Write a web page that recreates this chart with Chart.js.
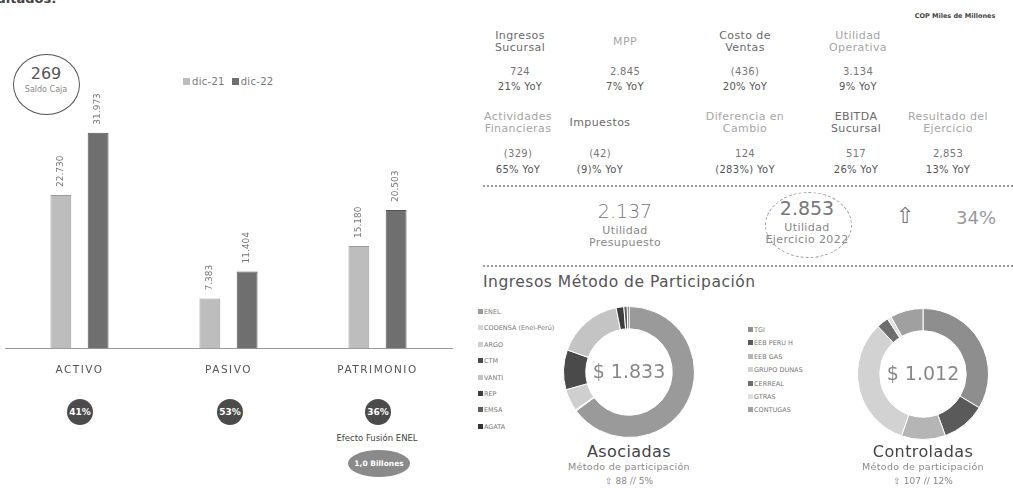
<!DOCTYPE html>
<html>
<head>
<meta charset="utf-8">
<script src="https://cdn.jsdelivr.net/npm/chart.js@4.4.1/dist/chart.umd.min.js"></script>
<style>
  body { margin: 0; background: #fff; font-family: "DejaVu Sans", sans-serif; color: #6a6a6a; }
  #hoja { position: relative; width: 1013px; height: 494px; overflow: hidden; }
  .abs { position: absolute; white-space: nowrap; }
  .cen { position: absolute; transform: translateX(-50%); text-align: center; white-space: nowrap; }
  .tit { font-size: 11px; line-height: 12px; letter-spacing: 0.4px; }
  .val { font-size: 10px; color: #777; letter-spacing: 0.3px; }
  .yoy { font-size: 10px; color: #555; letter-spacing: 0.3px; }
  .claro { color: #a5a5a5; }
  .pct { position: absolute; width: 26px; height: 26px; border-radius: 50%; background: #4b4b4b;
         color: #fff; font-size: 9px; font-weight: bold; line-height: 26px; text-align: center; transform: translateX(-50%); }
  .linea { position: absolute; left: 483px; width: 530px; border-top: 2px dotted #9a9a9a; }
  .ley { position: absolute; font-size: 6.5px; color: #777; white-space: nowrap; }
  .ley span { display: inline-block; width: 5px; height: 5px; margin-right: 1px; }
</style>
</head>
<body>
<div id="hoja">
  <div class="abs" style="left:-30px;top:-9px;font-size:13px;font-weight:bold;color:#444">Resultados:</div>

  <!-- panel izquierdo -->
  <div class="abs" style="left:13px;top:54px;width:65px;height:59px;border:1px solid #555;border-radius:50%;"></div>
  <div class="cen" style="left:46px;top:64px;font-size:16px;color:#555">269</div>
  <div class="cen" style="left:46px;top:85px;font-size:8px;color:#888">Saldo Caja</div>
  <div id="leyBarras" class="abs" style="left:183px;top:76px;font-size:10px;color:#777;letter-spacing:0.3px"></div>

  <canvas id="barras" class="abs" style="left:0;top:65px"></canvas>
  <div id="circulos"></div>
  <div class="cen" style="left:377px;top:433px;font-size:8.5px;color:#444">Efecto Fusión ENEL</div>
  <div class="abs" style="left:348px;top:450px;width:62px;height:27px;border-radius:50%;background:#8a8a8a;color:#fff;font-size:7.5px;font-weight:bold;line-height:27px;text-align:center">1,0 Billones</div>

  <!-- panel derecho -->
  <div class="cen" style="left:955px;top:12px;font-size:6.5px;font-weight:bold;color:#444">COP Miles de Millones</div>
  <div id="tabla"></div>
  <div class="linea" style="top:185px"></div>

  <div class="cen" style="left:625px;top:200px;font-size:19px;color:#777;font-weight:300">2.137</div>
  <div class="cen tit" style="left:625px;top:225px;color:#888">Utilidad<br>Presupuesto</div>
  <div class="abs" style="left:765px;top:192px;width:85px;height:64px;border:1px dashed #999;border-radius:50%"></div>
  <div class="cen" style="left:807px;top:197px;font-size:19px;color:#777">2.853</div>
  <div class="cen tit" style="left:807px;top:222px;color:#888">Utilidad<br>Ejercicio 2022</div>
  <div class="cen" style="left:905px;top:203px;font-size:22px;color:#777">⇧</div>
  <div class="cen" style="left:976px;top:207px;font-size:18px;color:#999">34%</div>
  <div class="linea" style="top:265px"></div>

  <div class="abs" style="left:483px;top:273px;font-size:15.5px;color:#555;letter-spacing:0.5px">Ingresos Método de Participación</div>

  <div id="leyAsoc"></div>
  <div id="leyCont"></div>
  <canvas id="asociadas" class="abs" style="left:559px;top:302px"></canvas>
  <canvas id="controladas" class="abs" style="left:853px;top:304px"></canvas>
  <div id="centroAsoc" class="cen" style="left:629px;top:360px;font-size:19px;color:#888"></div>
  <div id="centroCont" class="cen" style="left:923px;top:362px;font-size:19px;color:#888"></div>

  <div class="cen" style="left:629px;top:442px;font-size:16px;color:#444;letter-spacing:0.4px">Asociadas</div>
  <div class="cen" style="left:629px;top:461px;font-size:9.5px;color:#888;letter-spacing:0.3px">Método de participación</div>
  <div class="cen" style="left:629px;top:476px;font-size:9px;color:#888">⇧ 88 // 5%</div>
  <div class="cen" style="left:923px;top:442px;font-size:16px;color:#444;letter-spacing:0.4px">Controladas</div>
  <div class="cen" style="left:923px;top:461px;font-size:9.5px;color:#888;letter-spacing:0.3px">Método de participación</div>
  <div class="cen" style="left:923px;top:476px;font-size:9px;color:#888">⇧ 107 // 12%</div>
</div>

<script>
// Balance (COP miles de millones)
const categorias = ['ACTIVO', 'PASIVO', 'PATRIMONIO'];
const dic21 = [22730, 7383, 15180];
const dic22 = [31973, 11404, 20503];
const variaciones = ['41%', '53%', '36%'];

// Estado de resultados
const titulos1 = ['Ingresos<br>Sucursal', 'MPP', 'Costo de<br>Ventas', 'Utilidad<br>Operativa'];
const valores1 = ['724', '2.845', '(436)', '3.134'];
const yoy1 = ['21% YoY', '7% YoY', '20% YoY', '9% YoY'];
const titulos2 = ['Actividades<br>Financieras', 'Impuestos', 'Diferencia en<br>Cambio', 'EBITDA<br>Sucursal', 'Resultado del<br>Ejercicio'];
const valores2 = ['(329)', '(42)', '124', '517', '2,853'];
const yoy2 = ['65% YoY', '(9)% YoY', '(283%) YoY', '26% YoY', '13% YoY'];

// Método de participación
const asociadasNombres = ['ENEL', 'CODENSA (Enel-Perú)', 'ARGO', 'CTM', 'VANTI', 'REP', 'EMSA', 'AGATA'];
const asociadasValores = [1190, 5, 100, 180, 300, 35, 15, 8];
const controladasNombres = ['TGI', 'EEB PERU H', 'EEB GAS', 'GRUPO DUNAS', 'CERREAL', 'GTRAS', 'CONTUGAS'];
const controladasValores = [340, 110, 110, 330, 30, 10, 82];

const grisAsoc = ['#9a9a9a', '#d6d6d6', '#cfcfcf', '#4a4a4a', '#c4c4c4', '#3d3d3d', '#5c5c5c', '#333333'];
const grisCont = ['#8e8e8e', '#5a5a5a', '#b5b5b5', '#d2d2d2', '#6e6e6e', '#e0e0e0', '#a0a0a0'];

function miles(n) {
    return String(n).replace(/\B(?=(\d{3})+(?!\d))/g, '.');
}
function total(arr) {
    return arr.reduce((a, b) => a + b, 0);
}

// tabla de indicadores
const xFila1 = [520, 625, 745, 858];
const xFila2 = [518, 600, 745, 856, 948];
const claros1 = [false, true, false, true];
const claros2 = [true, false, true, false, true];
let html = '';
titulos1.forEach((t, i) => {
    const dosLineas = t.indexOf('<br>') >= 0;
    html += `<div class="cen tit ${claros1[i] ? 'claro' : ''}" style="left:${xFila1[i]}px;top:${dosLineas ? 30 : 36}px">${t}</div>`;
    html += `<div class="cen val" style="left:${xFila1[i]}px;top:66px">${valores1[i]}</div>`;
    html += `<div class="cen yoy" style="left:${xFila1[i]}px;top:81px">${yoy1[i]}</div>`;
});
titulos2.forEach((t, i) => {
    const dosLineas = t.indexOf('<br>') >= 0;
    html += `<div class="cen tit ${claros2[i] ? 'claro' : ''}" style="left:${xFila2[i]}px;top:${dosLineas ? 111 : 117}px">${t}</div>`;
    html += `<div class="cen val" style="left:${xFila2[i]}px;top:148px">${valores2[i]}</div>`;
    html += `<div class="cen yoy" style="left:${xFila2[i]}px;top:164px">${yoy2[i]}</div>`;
});
document.getElementById('tabla').innerHTML = html;

// leyendas de las donas
function leyenda(id, nombres, colores, x, y0, paso) {
    let h = '';
    nombres.forEach((n, i) => {
        h += `<div class="ley" style="left:${x}px;top:${y0 + i * paso}px"><span style="background:${colores[i]}"></span>${n}</div>`;
    });
    document.getElementById(id).innerHTML = h;
}
leyenda('leyAsoc', asociadasNombres, grisAsoc, 478, 308, 16.4);
leyenda('leyCont', controladasNombres, grisCont, 748, 326, 13.4);

document.getElementById('centroAsoc').textContent = '$ ' + miles(total(asociadasValores));
document.getElementById('centroCont').textContent = '$ ' + miles(total(controladasValores));

// leyenda barras
document.getElementById('leyBarras').innerHTML =
    '<span style="display:inline-block;width:7px;height:7px;background:#bdbdbd;margin-right:2px"></span>dic-21 &nbsp;' +
    '<span style="display:inline-block;width:7px;height:7px;background:#6f6f6f;margin-right:2px"></span>dic-22';

// círculos de variación
const xCirc = [80, 230, 378];
document.getElementById('circulos').innerHTML = variaciones.map((v, i) =>
    `<div class="pct" style="left:${xCirc[i]}px;top:399px">${v}</div>`).join('');

// espaciado de letras para las categorías
const espaciado = {
    id: 'espaciado',
    beforeDraw(chart) {
        chart.ctx.letterSpacing = '1.5px';
    }
};

// etiquetas verticales sobre las barras
const etiquetasVerticales = {
    id: 'etiquetasVerticales',
    afterDatasetsDraw(chart) {
        const ctx = chart.ctx;
        ctx.save();
        ctx.letterSpacing = '0px';
        ctx.font = '9px "DejaVu Sans"';
        ctx.fillStyle = '#777';
        ctx.textAlign = 'left';
        ctx.textBaseline = 'middle';
        chart.data.datasets.forEach((ds, di) => {
            chart.getDatasetMeta(di).data.forEach((bar, i) => {
                ctx.save();
                ctx.translate(bar.x, bar.y - 8);
                ctx.rotate(-Math.PI / 2);
                ctx.fillText(miles(ds.data[i]), 0, 0);
                ctx.restore();
            });
        });
        ctx.restore();
    }
};

const cvBarras = document.getElementById('barras');
cvBarras.width = 460;
cvBarras.height = 320;
new Chart(cvBarras, {
    type: 'bar',
    data: {
        labels: categorias,
        datasets: [
            { label: 'dic-21', data: dic21, backgroundColor: '#bdbdbd', borderColor: '#9a9a9a', borderWidth: 1 },
            { label: 'dic-22', data: dic22, backgroundColor: '#6f6f6f', borderColor: '#555', borderWidth: 1 }
        ]
    },
    options: {
        responsive: false,
        animation: false,
        categoryPercentage: 0.5,
        barPercentage: 0.56,
        layout: { padding: { left: 5, right: 8, top: 0, bottom: 0 } },
        scales: {
            y: { display: false, min: 0, max: 42000 },
            x: {
                grid: { display: false },
                border: { display: true, color: '#999', dash: [2, 2], width: 1 },
                ticks: { color: '#555', font: { size: 10.5, family: 'DejaVu Sans' }, padding: 8 }
            }
        },
        plugins: { legend: { display: false }, tooltip: { enabled: false } }
    },
    plugins: [espaciado, etiquetasVerticales]
});

function dona(id, nombres, valores, colores) {
    const cv = document.getElementById(id);
    cv.width = 140;
    cv.height = 140;
    new Chart(cv, {
        type: 'doughnut',
        data: {
            labels: nombres,
            datasets: [{ data: valores, backgroundColor: colores, borderColor: '#fff', borderWidth: 1 }]
        },
        options: {
            responsive: false,
            animation: false,
            cutout: '66%',
            layout: { padding: 4 },
            plugins: { legend: { display: false }, tooltip: { enabled: false } }
        }
    });
}
dona('asociadas', asociadasNombres, asociadasValores, grisAsoc);
dona('controladas', controladasNombres, controladasValores, grisCont);
</script>
</body>
</html>
